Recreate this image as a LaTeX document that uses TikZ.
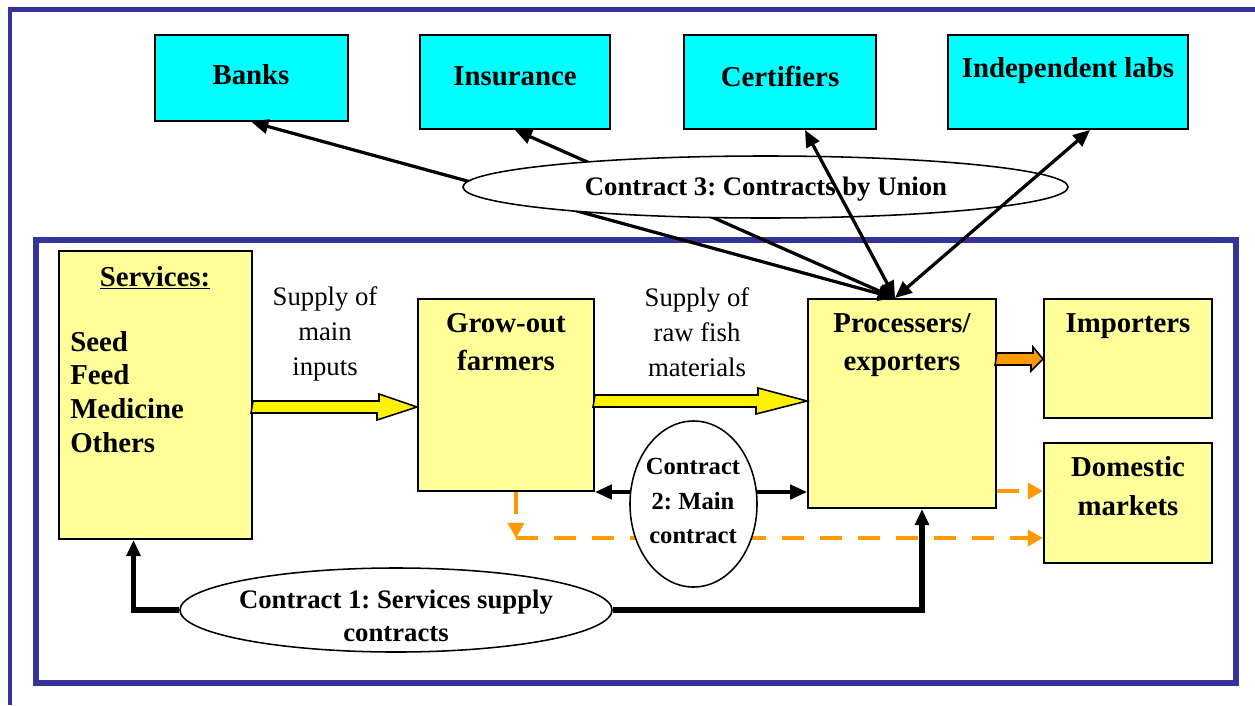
\documentclass[tikz,border=0pt]{standalone}
\usepackage{fontspec}
\setmainfont{Liberation Serif}
\frenchspacing
\usetikzlibrary{arrows.meta,calc,shapes.geometric}
\definecolor{unionblue}{HTML}{333399}
\definecolor{cyanbox}{HTML}{00FFFF}
\definecolor{paleyellow}{HTML}{FFFF99}
\definecolor{fishorange}{HTML}{FF9900}
\tikzset{
  agent/.style={draw, line width=1.4pt, fill=cyanbox},
  chain/.style={draw, line width=1.4pt, fill=paleyellow},
  deal/.style={draw, ellipse, line width=1.1pt, fill=white, inner sep=0pt},
  boxtxt/.style={font=\fontsize{20.5}{27}\selectfont\bfseries, align=center, inner sep=0pt},
  dealtxt/.style={font=\fontsize{19}{23.4}\selectfont\bfseries, align=center, inner sep=0pt},
  flowtxt/.style={font=\fontsize{19}{24.8}\selectfont, align=center, inner sep=0pt},
  link/.style={line width=2.3pt, >={Triangle[length=0.42cm,width=0.36cm]}, <->},
  supply/.style={line width=3.6pt, -{Triangle[length=0.4cm,width=0.34cm]}},
  sales/.style={fishorange, line width=3pt, dash pattern=on 0.55cm off 0.4cm, -{Triangle[length=0.38cm,width=0.4cm]}},
  fat/.style={draw, line width=1.1pt}
}
\begin{document}
\begin{tikzpicture}[x=0.025cm, y=-0.025cm]
\useasboundingbox (0,0) rectangle (1255,705);
% frames
\draw[unionblue, line width=2.85pt] (10,705) -- (10,9.5) -- (1255,9.5);
\draw[unionblue, line width=3.9pt] (36,240) rectangle (1236,683);

% partners outside the union
\node[agent, minimum width=4.825cm, minimum height=2.15cm] (banks) at (251.5,78) {};
\node[agent, minimum width=4.75cm, minimum height=2.35cm] (insur) at (515,82) {};
\node[agent, minimum width=4.8cm, minimum height=2.35cm] (cert) at (780,82) {};
\node[agent, minimum width=6cm, minimum height=2.35cm] (labs) at (1068,82) {};
\node[boxtxt] (banksT) at (251,75) {Banks};
\node[boxtxt] (insurT) at (515,76) {Insurance};
\node[boxtxt] (certT) at (780,76) {Certifiers};
\node[boxtxt] (labsT) at (1068,71) {Independent labs};

% union members
\node[chain, minimum width=4.825cm, minimum height=7.2cm] (serv) at (155.5,395) {};
\node[chain, minimum width=4.4cm, minimum height=4.8cm] (grow) at (506,395) {};
\node[chain, minimum width=4.7cm, minimum height=5.225cm] (proc) at (902,403.5) {};
\node[chain, minimum width=4.2cm, minimum height=2.975cm] (imp) at (1128,358.5) {};
\node[chain, minimum width=4.2cm, minimum height=3cm] (dom) at (1128,503) {};
\node[boxtxt] (servT) at (155,278) {\underline{Services:}};
\node[boxtxt, font=\fontsize{20.5}{24.1}\selectfont\bfseries, align=left, anchor=west] (servL) at (70,392) {Seed\\Feed\\Medicine\\Others};
\node[boxtxt] (growT) at (506,342.5) {Grow-out\\farmers};
\node[boxtxt] (procT) at (902,345.5) {Processers/\\exporters};
\node[boxtxt] (impT) at (1128,326) {Importers};
\node[boxtxt, font=\fontsize{20.5}{27.6}\selectfont\bfseries] (domT) at (1128,486) {Domestic\\markets};
\node[flowtxt] (inT) at (325,334) {Supply of\\main\\inputs};
\node[flowtxt] (rawT) at (697,332) {Supply of\\raw fish\\materials};

% contract 3
\coordinate (hub) at ($(proc.north)+(-7,0)$);
\draw[link] (hub) -- (banks.south);
\draw[link] (hub) -- (insur.south);
\node[deal, minimum width=15.125cm, minimum height=1.55cm] (c3) at (765.5,187) {};
\node[dealtxt] (c3T) at (766,189.5) {Contract 3: Contracts by Union};
\draw[link] (hub) -- ($(cert.south)+(25,0)$);
\draw[link] (hub) -- ($(labs.south)+(22,0)$);

% product flows
\draw[fat, fill=yellow] (serv.east |- 0,401) -- ++(126,0) -- ++(0,-7) -- (grow.west |- 0,407)
  -- ++(-40,13) -- ++(0,-7) -- ++(-126,0) -- cycle;
\draw[fat, fill=yellow] (grow.east |- 0,395) -- ++(163,0) -- ++(0,-7) -- (proc.west |- 0,401)
  -- ++(-51,13) -- ++(0,-7) -- ++(-163,0) -- cycle;
\draw[fat, fill=fishorange] (proc.east |- 0,353) -- ++(36,0) -- ++(0,-6) -- (imp.west |- 0,359)
  -- ++(-12,12) -- ++(0,-6) -- ++(-36,0) -- cycle;

% contract 2 and domestic sales
\draw[link] (grow.south east) -- (proc.west |- grow.south);
\coordinate (bend) at (516,538);
\draw[sales] (grow.south -| bend) -- (bend);
\draw[sales] (bend) -- (dom.west |- bend);
\draw[sales] (proc.east |- 0,491) -- (dom.west |- 0,491);
\node[deal, minimum width=3.175cm, minimum height=4.15cm] (c2) at (693.5,504) {};
\node[dealtxt, font=\fontsize{17.5}{24.8}\selectfont\bfseries] (c2T) at (693,501) {Contract\\2: Main\\contract};

% contract 1
\node[deal, minimum width=10.8cm, minimum height=2.1cm] (c1) at (396,610) {};
\node[dealtxt] (c1T) at (396,615.5) {Contract 1: Services supply\\contracts};
\draw[supply] (c1.west) -| ($(serv.south)+(-22,0)$);
\draw[supply] (c1.east) -| ($(proc.south)+(20,0)$);
\end{tikzpicture}
\end{document}
